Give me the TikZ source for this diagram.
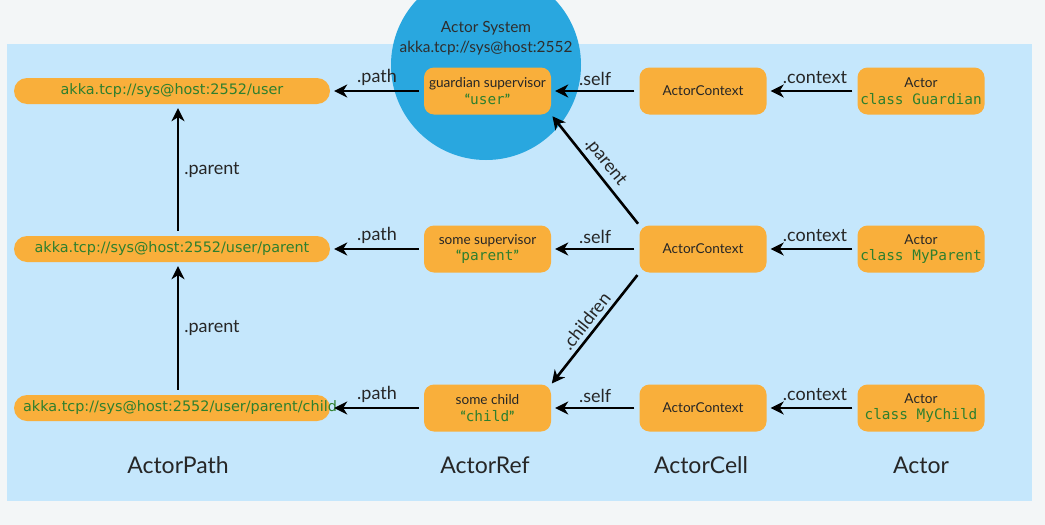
\documentclass[tikz,border=0pt]{standalone}
\usepackage{fontspec}
\setmainfont{Lato}
\newfontfamily\pillfont{DejaVu Sans}
\newfontfamily\codefont{DejaVu Sans Mono}
\usetikzlibrary{arrows.meta}
\definecolor{outbg}{HTML}{F3F6F7}
\definecolor{panel}{HTML}{C5E7FC}
\definecolor{circ}{HTML}{29A7DF}
\definecolor{orng}{HTML}{F9AF3B}
\definecolor{codegreen}{HTML}{2E7F2E}
\tikzset{
  pill/.style={fill=orng, rounded corners=13pt, minimum width=316pt, minimum height=26pt, inner sep=0pt,
    text=codegreen, font=\pillfont\fontsize{14.4}{16}\selectfont},
  box/.style={fill=orng, rounded corners=10pt, minimum width=127pt, minimum height=47pt, inner sep=0pt,
    align=center, font=\fontsize{13.6}{16.5}\selectfont, text=black!85},
  arr/.style={line width=2.6pt, -{Stealth[length=13pt,width=13pt,inset=4pt]}, shorten >=4pt, shorten <=5pt},
  lbl/.style={font=\fontsize{18}{20}\selectfont, text=black!85, inner sep=1pt},
  head/.style={font=\fontsize{23}{25}\selectfont, text=black!85},
}
\newcommand{\cde}[1]{{\color{codegreen}\codefont\fontsize{14.4}{16.5}\selectfont #1}}
\newcommand{\qcde}[1]{{\color{codegreen}\bfseries“{\codefont\mdseries\fontsize{14.4}{16.5}\selectfont #1}”}}
\begin{document}
\begin{tikzpicture}[x=1pt,y=-1pt]
\useasboundingbox (0,0) rectangle (1045,525);
\fill[outbg] (0,0) rectangle (1045,525);
\fill[panel] (7,44) rectangle (1032,501);
\begin{scope}
\clip (0,0) rectangle (1045,525);
\fill[circ] (486,65) circle[radius=95];
\end{scope}
\node[font=\fontsize{15.4}{20}\selectfont, text=black!82, align=center] (sys) at (486,38) {Actor System\\akka.tcp://sys@host:2552};

% ActorPath
\node[pill] (p1) at (172,91) {akka.tcp://sys@host:2552/user};
\node[pill] (p2) at (172,249) {akka.tcp://sys@host:2552/user/parent};
\node[pill] (p3) at (172,408) {\makebox[300pt][c]{\hspace*{16pt}akka.tcp://sys@host:2552/user/parent/child}};

% ActorRef
\node[box] (r1) at (487.5,91) {guardian supervisor\\\qcde{user}};
\node[box] (r2) at (487.5,249) {some supervisor\\\qcde{parent}};
\node[box] (r3) at (487.5,408) {some child\\\qcde{child}};

% ActorCell
\node[box] (c1) at (703,91) {ActorContext};
\node[box] (c2) at (703,249) {ActorContext};
\node[box] (c3) at (703,408) {ActorContext};

% Actor
\node[box] (a1) at (921,91) {Actor\\\cde{class Guardian}};
\node[box] (a2) at (921,249) {Actor\\\cde{class MyParent}};
\node[box] (a3) at (921,408) {Actor\\\cde{class MyChild}};

% horizontal arrows
\foreach \i in {1,2,3}{
  \draw[arr] (r\i.west) -- node[lbl, above=3pt] {.path} (p\i.east);
  \draw[arr] (c\i.west) -- node[lbl, above=3pt] {.self} (r\i.east);
  \draw[arr] (a\i.west) -- node[lbl, above=5pt, xshift=3pt] {.context} (c\i.east);
}
% vertical parents
\draw[arr] ([xshift=6pt]p2.north) -- node[lbl, right=4pt] {.parent} ([xshift=6pt]p1.south);
\draw[arr] ([xshift=6pt]p3.north) -- node[lbl, right=4pt] {.parent} ([xshift=6pt]p2.south);
% diagonals
\draw[arr, shorten <=2pt, shorten >=2pt] (c2.north west) -- node[lbl, sloped, above=3pt] {.parent} (r1.south east);
\draw[arr, shorten <=3pt, shorten >=1pt] (c2.south west) -- node[lbl, sloped, above=3pt] {.children} (r3.north east);

% headings
\node[head] (h1) at (178,465) {ActorPath};
\node[head] (h2) at (485,465) {ActorRef};
\node[head] (h3) at (701,465) {ActorCell};
\node[head] (h4) at (921,465) {Actor};
\end{tikzpicture}
\end{document}
